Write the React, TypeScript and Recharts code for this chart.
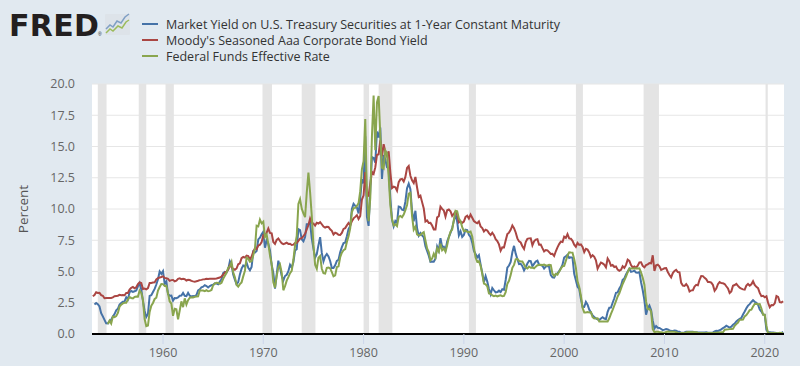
import React from "react";
import { LineChart, Line, XAxis, YAxis, CartesianGrid, ReferenceArea } from "recharts";

// Bimonthly samples (Jan, Mar, May, Jul, Sep, Nov) starting Jan 1953
const START_YEAR = 1953;
const STEPS_PER_YEAR = 6;

// Market Yield on U.S. Treasury Securities at 1-Year Constant Maturity
const treasury1y: (number | null)[] = [
  null, 2.36, 2.48, 2.38, 2.2, 1.67, // 1953
  1.41, 1.13, 0.85, 0.84, 1.03, 1.14,
  1.39, 1.59, 1.9, 2.02, 2.36, 2.48,
  2.58, 2.61, 2.94, 2.76, 3.35, 3.44,
  3.37, 3.42, 3.48, 3.81, 4.07, 3.57,
  2.65, 1.84, 1.37, 1.61, 3.05, 3.1,
  3.36, 3.61, 3.96, 4.39, 5.0, 4.81,
  5.03, 4.02, 4.21, 3.2, 3.07, 3.08, // 1960
  2.67, 2.88, 2.87, 2.92, 3.06, 3.07,
  3.28, 3.06, 3.03, 3.29, 3.06, 3.0,
  3.04, 3.03, 3.12, 3.48, 3.57, 3.74,
  3.79, 3.91, 3.84, 3.72, 3.84, 3.91,
  3.94, 4.06, 4.03, 3.98, 4.2, 4.37,
  4.88, 4.97, 4.93, 5.17, 5.82, 5.54,
  4.75, 4.35, 3.98, 4.15, 4.77, 5.23,
  5.48, 5.38, 5.71, 5.29, 5.1, 5.36,
  6.59, 6.52, 6.64, 7.57, 7.71, 7.97,
  8.17, 6.9, 7.48, 7.22, 6.68, 5.55, // 1970
  4.89, 3.62, 4.76, 5.87, 5.31, 4.67,
  4.28, 4.64, 4.74, 5.02, 5.54, 5.32,
  5.73, 6.68, 6.78, 8.39, 8.31, 7.57,
  7.42, 7.76, 8.78, 8.8, 8.87, 7.66,
  6.83, 6.11, 6.39, 7.11, 7.75, 6.49,
  5.81, 6.21, 6.4, 6.2, 5.84, 5.29,
  5.29, 5.5, 5.84, 5.94, 6.53, 6.95,
  7.28, 7.31, 7.82, 8.39, 8.64, 10.01,
  10.41, 10.25, 10.12, 9.64, 10.84, 12.39,
  12.06, 15.82, 9.39, 8.65, 11.52, 14.15, // 1980
  14.08, 13.71, 16.2, 15.72, 16.52, 12.41,
  14.32, 13.95, 13.34, 13.24, 10.85, 9.16,
  8.62, 9.04, 8.9, 10.2, 10.16, 9.94,
  9.9, 10.59, 11.66, 12.03, 11.58, 9.82,
  9.02, 9.86, 8.46, 7.86, 8.07, 7.88,
  7.73, 7.03, 6.65, 6.27, 5.77, 5.8,
  5.78, 6.03, 7.0, 6.68, 7.67, 6.96,
  6.99, 6.71, 7.4, 7.75, 8.09, 8.48,
  9.05, 9.57, 8.98, 7.89, 8.22, 7.77,
  7.92, 8.35, 8.32, 7.94, 7.76, 7.31, // 1990
  6.64, 6.4, 6.13, 6.31, 5.57, 4.89,
  4.15, 4.63, 4.19, 3.6, 3.18, 3.68,
  3.5, 3.33, 3.36, 3.47, 3.36, 3.58,
  3.54, 4.32, 5.31, 5.48, 5.76, 6.54,
  7.05, 6.43, 6.0, 5.59, 5.62, 5.43,
  5.09, 5.34, 5.64, 5.85, 5.83, 5.42,
  5.61, 5.8, 5.87, 5.54, 5.52, 5.46,
  5.24, 5.39, 5.44, 5.36, 4.71, 4.53,
  4.51, 4.78, 4.85, 5.03, 5.25, 5.55,
  6.12, 6.22, 6.33, 6.08, 6.13, 6.09, // 2000
  4.81, 4.3, 3.78, 3.62, 2.82, 2.18,
  2.16, 2.57, 2.35, 1.96, 1.72, 1.49,
  1.36, 1.24, 1.18, 1.12, 1.24, 1.34,
  1.24, 1.19, 1.78, 2.1, 2.12, 2.5,
  2.86, 3.3, 3.33, 3.64, 3.85, 4.33,
  4.45, 4.77, 5.0, 5.22, 4.97, 5.01,
  5.06, 4.92, 4.91, 4.96, 4.14, 3.5,
  2.71, 1.54, 2.06, 2.28, 1.91, 1.07,
  0.44, 0.64, 0.5, 0.48, 0.4, 0.31,
  0.35, 0.4, 0.37, 0.29, 0.26, 0.25, // 2010
  0.27, 0.26, 0.19, 0.19, 0.1, 0.11,
  0.12, 0.19, 0.19, 0.19, 0.18, 0.18,
  0.15, 0.15, 0.12, 0.12, 0.12, 0.12,
  0.12, 0.13, 0.1, 0.11, 0.11, 0.13,
  0.2, 0.25, 0.24, 0.3, 0.37, 0.48,
  0.54, 0.66, 0.59, 0.51, 0.59, 0.74,
  0.83, 1.01, 1.12, 1.22, 1.28, 1.56,
  1.8, 2.06, 2.27, 2.39, 2.56, 2.7,
  2.58, 2.49, 2.34, 1.96, 1.8, 1.57,
  1.53, 0.33, 0.16, 0.15, 0.13, 0.12, // 2020
  0.1, 0.08, 0.05, 0.08, 0.08, 0.18,
];

// Moody's Seasoned Aaa Corporate Bond Yield
const aaaYield: (number | null)[] = [
  3.02, 3.12, 3.34, 3.28, 3.29, 3.11, // 1953
  3.06, 2.86, 2.88, 2.89, 2.89, 2.89,
  2.93, 3.02, 3.04, 3.06, 3.13, 3.1,
  3.11, 3.1, 3.28, 3.28, 3.56, 3.69,
  3.77, 3.66, 3.74, 3.99, 4.12, 4.08,
  3.6, 3.63, 3.57, 3.67, 4.09, 4.09,
  4.12, 4.13, 4.37, 4.47, 4.52, 4.56,
  4.61, 4.49, 4.46, 4.41, 4.25, 4.31, // 1960
  4.32, 4.22, 4.27, 4.41, 4.45, 4.39,
  4.42, 4.39, 4.28, 4.34, 4.32, 4.25,
  4.21, 4.19, 4.22, 4.26, 4.31, 4.33,
  4.37, 4.38, 4.41, 4.4, 4.42, 4.43,
  4.43, 4.42, 4.44, 4.48, 4.52, 4.6,
  4.74, 4.92, 4.98, 5.16, 5.49, 5.35,
  5.2, 5.13, 5.24, 5.58, 5.65, 6.07,
  6.17, 6.11, 6.27, 6.24, 5.97, 6.19,
  6.59, 6.85, 6.79, 7.08, 7.14, 7.35,
  7.91, 7.84, 8.11, 8.44, 8.09, 8.05, // 1970
  7.36, 7.21, 7.53, 7.64, 7.44, 7.26,
  7.19, 7.24, 7.3, 7.21, 7.22, 7.12,
  7.15, 7.29, 7.29, 7.45, 7.63, 7.67,
  7.83, 8.01, 8.37, 8.72, 9.24, 8.89,
  8.83, 8.67, 8.9, 8.84, 8.95, 8.78,
  8.6, 8.52, 8.58, 8.56, 8.38, 8.25,
  7.96, 8.1, 8.05, 7.94, 7.92, 8.08,
  8.41, 8.47, 8.69, 8.88, 8.69, 9.03,
  9.25, 9.37, 9.5, 9.2, 9.44, 10.76,
  11.09, 12.96, 10.99, 11.07, 12.02, 12.97, // 1980
  12.81, 13.33, 14.32, 14.38, 15.49, 14.22,
  15.18, 14.58, 14.26, 14.61, 12.94, 11.68,
  11.79, 11.73, 11.46, 12.15, 12.37, 12.41,
  12.2, 12.57, 13.28, 13.44, 12.66, 12.29,
  12.08, 12.56, 11.72, 10.97, 11.07, 10.55,
  10.05, 9.0, 9.09, 8.88, 8.89, 8.68,
  8.36, 8.36, 9.33, 9.42, 10.18, 10.01,
  9.88, 9.39, 9.9, 9.96, 9.82, 9.45,
  9.62, 9.8, 9.57, 8.93, 9.01, 8.89,
  8.99, 9.37, 9.47, 9.24, 9.56, 9.3, // 1990
  9.04, 8.93, 8.86, 9.0, 8.61, 8.48,
  8.2, 8.35, 8.28, 8.07, 7.92, 8.1,
  7.91, 7.58, 7.43, 7.17, 6.66, 6.93,
  6.92, 7.48, 7.99, 8.11, 8.34, 8.68,
  8.46, 8.12, 7.65, 7.41, 7.32, 7.02,
  6.81, 7.35, 7.62, 7.65, 7.66, 7.1,
  7.42, 7.55, 7.58, 7.14, 7.15, 6.87,
  6.61, 6.72, 6.69, 6.55, 6.4, 6.41,
  6.24, 6.62, 6.93, 7.19, 7.39, 7.36,
  7.78, 7.68, 7.99, 7.65, 7.62, 7.45, // 2000
  7.15, 6.98, 7.29, 7.13, 7.17, 6.97,
  6.55, 6.81, 6.75, 6.53, 6.15, 6.31,
  6.17, 5.89, 5.22, 5.49, 5.72, 5.65,
  5.54, 5.33, 6.04, 5.82, 5.46, 5.52,
  5.36, 5.4, 5.15, 5.06, 5.13, 5.42,
  5.29, 5.53, 5.95, 5.85, 5.51, 5.33,
  5.4, 5.3, 5.47, 5.73, 5.74, 5.44,
  5.33, 5.51, 5.57, 5.67, 5.65, 6.3,
  5.05, 5.5, 5.54, 5.41, 5.13, 5.19,
  5.26, 5.27, 4.96, 4.72, 4.53, 4.87, // 2010
  5.04, 5.13, 4.96, 4.93, 4.09, 3.87,
  3.85, 3.99, 3.8, 3.4, 3.49, 3.5,
  3.8, 3.93, 3.89, 4.34, 4.64, 4.63,
  4.49, 4.38, 4.16, 4.16, 4.11, 3.92,
  3.46, 3.64, 3.98, 4.15, 4.07, 4.06,
  4.0, 3.82, 3.65, 3.28, 3.41, 3.86,
  3.92, 4.01, 3.85, 3.7, 3.63, 3.57,
  3.55, 3.87, 4.0, 3.87, 3.98, 4.22,
  3.93, 3.77, 3.67, 3.29, 3.03, 3.06,
  2.94, 3.02, 2.5, 2.14, 2.31, 2.3, // 2020
  2.45, 3.04, 2.96, 2.55, 2.53, 2.62,
];

// Federal Funds Effective Rate
const fedFunds: (number | null)[] = [
  null, null, null, null, null, null, // 1953
  null, null, null, 0.8, 1.07, 0.83,
  1.39, 1.35, 1.43, 1.68, 2.18, 2.35,
  2.45, 2.5, 2.5, 2.75, 2.95, 2.88,
  2.84, 2.96, 3.0, 2.99, 3.47, 3.28,
  2.72, 1.2, 0.63, 0.68, 1.76, 2.27,
  2.48, 2.8, 2.9, 3.47, 3.76, 4.0,
  3.99, 3.84, 3.85, 3.23, 2.6, 2.44, // 1960
  1.45, 2.02, 1.98, 1.17, 1.88, 2.61,
  2.15, 2.85, 2.36, 2.71, 2.9, 2.94,
  2.92, 2.98, 3.0, 3.02, 3.48, 3.48,
  3.48, 3.43, 3.5, 3.42, 3.45, 3.52,
  3.9, 4.04, 4.1, 4.09, 4.01, 4.1,
  4.42, 4.65, 4.9, 5.3, 5.4, 5.76,
  4.94, 4.53, 3.94, 3.79, 3.99, 4.13,
  4.61, 5.05, 6.11, 6.02, 5.78, 5.82,
  6.3, 6.79, 8.67, 8.61, 9.15, 8.85,
  8.98, 7.76, 7.95, 7.21, 6.29, 5.6, // 1970
  4.14, 3.71, 4.63, 5.31, 5.55, 4.91,
  3.5, 3.83, 4.27, 4.55, 4.87, 5.06,
  5.94, 7.09, 7.84, 10.4, 10.78, 10.03,
  9.65, 9.35, 11.31, 12.92, 11.34, 9.45,
  7.13, 5.54, 5.22, 6.1, 6.24, 5.22,
  4.87, 4.84, 5.29, 5.31, 5.25, 4.95,
  4.61, 4.69, 5.35, 5.42, 6.14, 6.51,
  6.7, 6.79, 7.36, 7.81, 8.45, 9.76,
  10.07, 10.09, 10.24, 10.47, 11.43, 13.18,
  13.82, 17.19, 10.98, 9.03, 10.87, 15.85, // 1980
  19.08, 14.7, 18.52, 19.04, 15.87, 13.31,
  13.22, 14.68, 14.45, 12.59, 10.31, 9.2,
  8.68, 8.77, 8.63, 9.37, 9.45, 9.34,
  9.56, 9.91, 10.32, 11.23, 11.3, 9.43,
  8.35, 8.58, 7.97, 7.88, 7.92, 8.05,
  8.14, 7.48, 6.85, 6.56, 5.89, 6.04,
  6.43, 6.13, 6.85, 6.58, 7.22, 6.69,
  6.83, 6.58, 7.09, 7.75, 8.19, 8.35,
  9.12, 9.85, 9.81, 9.24, 9.02, 8.55,
  8.23, 8.28, 8.18, 8.15, 8.2, 7.81, // 1990
  6.91, 6.12, 5.78, 5.82, 5.45, 4.81,
  4.03, 3.98, 3.82, 3.25, 3.22, 3.09,
  3.02, 3.07, 3.0, 3.06, 3.09, 3.02,
  3.05, 3.34, 4.01, 4.26, 4.73, 5.29,
  5.53, 5.98, 6.01, 5.85, 5.8, 5.8,
  5.56, 5.31, 5.24, 5.4, 5.3, 5.31,
  5.25, 5.39, 5.5, 5.52, 5.54, 5.52,
  5.56, 5.49, 5.49, 5.54, 5.51, 4.83,
  4.63, 4.81, 4.74, 4.99, 5.22, 5.42,
  5.45, 5.85, 6.27, 6.54, 6.52, 6.51, // 2000
  5.98, 5.31, 4.21, 3.77, 3.07, 2.09,
  1.73, 1.73, 1.75, 1.73, 1.75, 1.34,
  1.24, 1.25, 1.26, 1.01, 1.01, 1.0,
  1.0, 1.0, 1.0, 1.26, 1.61, 1.93,
  2.28, 2.63, 3.0, 3.26, 3.62, 4.0,
  4.29, 4.59, 4.94, 5.24, 5.25, 5.25,
  5.25, 5.26, 5.25, 5.26, 4.94, 4.49,
  3.94, 2.61, 1.98, 2.01, 1.81, 0.39,
  0.15, 0.18, 0.18, 0.16, 0.15, 0.12,
  0.11, 0.16, 0.2, 0.18, 0.19, 0.19, // 2010
  0.17, 0.14, 0.09, 0.07, 0.08, 0.08,
  0.08, 0.13, 0.16, 0.16, 0.14, 0.16,
  0.14, 0.14, 0.11, 0.09, 0.08, 0.08,
  0.07, 0.08, 0.09, 0.09, 0.09, 0.09,
  0.11, 0.11, 0.12, 0.13, 0.14, 0.12,
  0.34, 0.36, 0.37, 0.39, 0.4, 0.41,
  0.65, 0.79, 0.91, 1.15, 1.15, 1.16,
  1.41, 1.51, 1.7, 1.91, 1.95, 2.2,
  2.4, 2.41, 2.39, 2.4, 2.04, 1.55,
  1.55, 0.65, 0.05, 0.09, 0.09, 0.09, // 2020
  0.09, 0.07, 0.06, 0.1, 0.08, 0.08,
];

// NBER recessions (decimal years)
const recessions: [number, number][] = [
  [1953.5, 1954.37],
  [1957.58, 1958.33],
  [1960.25, 1961.08],
  [1969.92, 1970.87],
  [1973.83, 1975.2],
  [1980.0, 1980.55],
  [1981.5, 1982.87],
  [1990.5, 1991.2],
  [2001.17, 2001.87],
  [2007.92, 2009.45],
  [2020.08, 2020.3],
];

const xTicks = [1960, 1970, 1980, 1990, 2000, 2010, 2020];
const yTicks = [0, 2.5, 5, 7.5, 10, 12.5, 15, 17.5, 20];

const seriesInfo = [
  { key: "gs1", name: "Market Yield on U.S. Treasury Securities at 1-Year Constant Maturity", color: "#4572a7" },
  { key: "aaa", name: "Moody's Seasoned Aaa Corporate Bond Yield", color: "#aa4643" },
  { key: "ff", name: "Federal Funds Effective Rate", color: "#89a54e" },
];

const rows = treasury1y.map((v, i) => ({
  t: START_YEAR + i / STEPS_PER_YEAR,
  gs1: v,
  aaa: aaaYield[i],
  ff: fedFunds[i],
}));

const FONT = "'Open Sans', 'Noto Sans', sans-serif";

export default function App() {
  return (
    <div
      style={{
        position: "absolute",
        left: 0,
        top: 0,
        width: 800,
        height: 366,
        background: "#e1e9f0",
        overflow: "hidden",
        fontFamily: FONT,
      }}
    >
      <LineChart
        width={800}
        height={366}
        data={rows}
        margin={{ top: 84, right: 16, bottom: 0, left: 0 }}
      >
        <CartesianGrid vertical={false} stroke="#e6e6e6" fill="#ffffff" strokeWidth={1} />
        {recessions.map(([a, b], i) => (
          <ReferenceArea key={i} x1={a} x2={b} fill="#e4e4e4" fillOpacity={1} stroke="none" />
        ))}
        <XAxis
          dataKey="t"
          type="number"
          domain={[1952.92, 2021.92]}
          allowDataOverflow
          ticks={xTicks}
          height={32}
          tickSize={10}
          tickMargin={4}
          axisLine={{ stroke: "#000000", strokeWidth: 2 }}
          tickLine={{ stroke: "#ccd6eb" }}
          tick={{ fill: "#666666", fontSize: 12.5, fontFamily: FONT }}
          tickFormatter={(v: number) => String(Math.round(v))}
        />
        <YAxis
          type="number"
          domain={[0, 20]}
          ticks={yTicks}
          width={92}
          axisLine={false}
          tickLine={false}
          tickSize={0}
          tickMargin={17}
          tick={{ fill: "#666666", fontSize: 12.5, fontFamily: FONT }}
          tickFormatter={(v: number) => v.toFixed(1)}
        />
        {seriesInfo.map((s) => (
          <Line
            key={s.key}
            dataKey={s.key}
            name={s.name}
            stroke={s.color}
            strokeWidth={2}
            dot={false}
            isAnimationActive={false}
            connectNulls={false}
            type="linear"
          />
        ))}
      </LineChart>
      <svg
        width={800}
        height={366}
        style={{ position: "absolute", left: 0, top: 0, pointerEvents: "none" }}
      >
        <text
          x={9}
          y={36}
          fontFamily="'DejaVu Sans', 'Liberation Sans', sans-serif"
          fontWeight={700}
          fontSize={30}
          fill="#231f20"
          letterSpacing={0.3}
        >
          FRED
        </text>
        <text x={98} y={36} fontSize={5} fill="#231f20" fontFamily="'Liberation Sans', sans-serif">®</text>
        <g>
          <rect x={105} y={14} width={25} height={21} fill="#dde3e9" rx={1} />
          <polyline points="106,29 110,25 113,27 117,21 121,23 125,17 129,14" fill="none" stroke="#7f9fc4" strokeWidth={1.5} />
          <polyline points="106,33 110,29 113,31 118,26 122,28 126,22 129,20" fill="none" stroke="#9cbb5c" strokeWidth={1.5} />
        </g>
        {seriesInfo.map((s, i) => (
          <g key={s.key}>
            <line x1={142} x2={158} y1={24 + i * 16} y2={24 + i * 16} stroke={s.color} strokeWidth={2} />
            <text x={166} y={28.5 + i * 16} fontSize={12.5} fill="#333333" fontFamily={FONT}>
              {s.name}
            </text>
          </g>
        ))}
        <text
          transform="translate(28,209) rotate(-90)"
          textAnchor="middle"
          fontSize={13.5}
          fill="#555555"
          fontFamily={FONT}
        >
          Percent
        </text>
      </svg>
    </div>
  );
}
